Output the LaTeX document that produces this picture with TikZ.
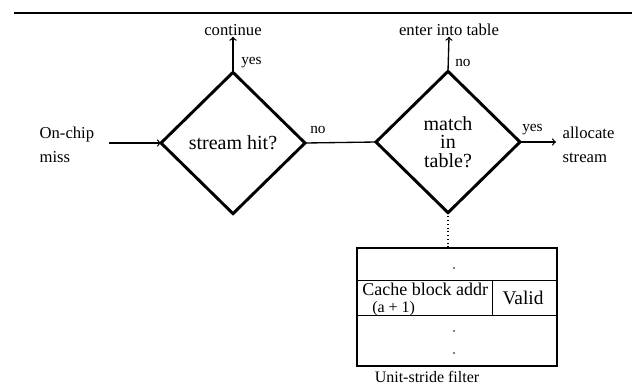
\documentclass[tikz,border=0pt]{standalone}
\usepackage{fontspec}
\setmainfont{Liberation Serif}
\usetikzlibrary{shapes.geometric}
\usetikzlibrary{arrows}
\usetikzlibrary{positioning}

\tikzset{
  decision/.style={draw, diamond, line width=2.2pt, inner sep=0pt, outer sep=0pt,
                   minimum width=108pt, minimum height=106pt, align=center,
                   font=\fontsize{15}{14}\selectfont},
  outtext/.style={inner sep=1pt, align=left, font=\fontsize{12.5}{18}\selectfont},
  answer/.style={inner sep=0pt, font=\fontsize{11.5}{13}\selectfont},
  flow/.style={->, >=to, line width=1pt},
  rowline/.style={line width=0.7pt}
}

\begin{document}
\begin{tikzpicture}[x=0.75pt, y=-0.75pt]
            \useasboundingbox (0,0) rectangle (632,390);
            % Rule across the top
            \draw[line width=1.5pt] (14,12.5) -- (632,12.5);

            % Decisions
            \node[decision] (hit)   at (233,143) {stream hit?};
            \node[decision] (match) at (448,142) {match\\in\\table?};

            % On-chip miss comes in from the left
            \node[outtext, anchor=west] (miss) at (38,145) {On-chip\\miss};
            \coordinate (missout) at (109,143);
            \draw[flow] (missout) -- (hit.west);

            % stream hit? -> continue
            \node[outtext, anchor=base] (cont) at (233,35) {continue};
            \draw[flow] (hit.north) -- (cont.south);
            \node[answer, anchor=west] (hityes) at (241,63) {yes};

            % stream hit? -> match in table?
            \draw[line width=1pt] (hit.east) -- (match.west);
            \node[answer, anchor=west] (hitno) at (310,130) {no};

            % match in table? -> enter into table
            \node[outtext, anchor=base] (enter) at (449,35) {enter into table};
            \draw[flow] (match.north) -- (enter.south);
            \node[answer, anchor=west] (matchno) at (455,63) {no};

            % match in table? -> allocate stream
            \node[outtext, anchor=west] (alloc) at (561,145) {allocate\\stream};
            \coordinate (allocin) at (556,142);
            \draw[flow] (match.east) -- (allocin);
            \node[answer, anchor=west] (matchyes) at (522,130) {yes};

            % Unit-stride filter table
            \node[draw, line width=2.2pt, inner sep=0pt, outer sep=0pt,
                  minimum width=150pt, minimum height=88.5pt] (filter) at (457,307) {};
            \draw[dotted, line width=0.8pt] (match.south) -- (match.south |- filter.north);
            \draw[rowline] (filter.west |- 0,280) -- (filter.east |- 0,280);
            \draw[rowline] (filter.west |- 0,315) -- (filter.east |- 0,315);
            \draw[rowline] (492,280) -- (492,315);
            \node[inner sep=0pt, anchor=west, font=\fontsize{13.5}{13}\selectfont] (addr) at (362,289.5) {Cache block addr};
            \node[inner sep=0pt, anchor=west, font=\fontsize{12}{12}\selectfont] (addri) at (372,308.5) {(a + 1)};
            \node[inner sep=0pt, font=\fontsize{14.5}{14}\selectfont] (valid) at (523,298) {Valid};
            \fill (454,268) circle (0.9);
            \fill (454,331) circle (0.9);
            \fill (454,353) circle (0.9);
            \node[outtext, anchor=north, font=\fontsize{12}{13}\selectfont] (filtername) at (427,370) {Unit-stride filter};
\end{tikzpicture}
\end{document}
